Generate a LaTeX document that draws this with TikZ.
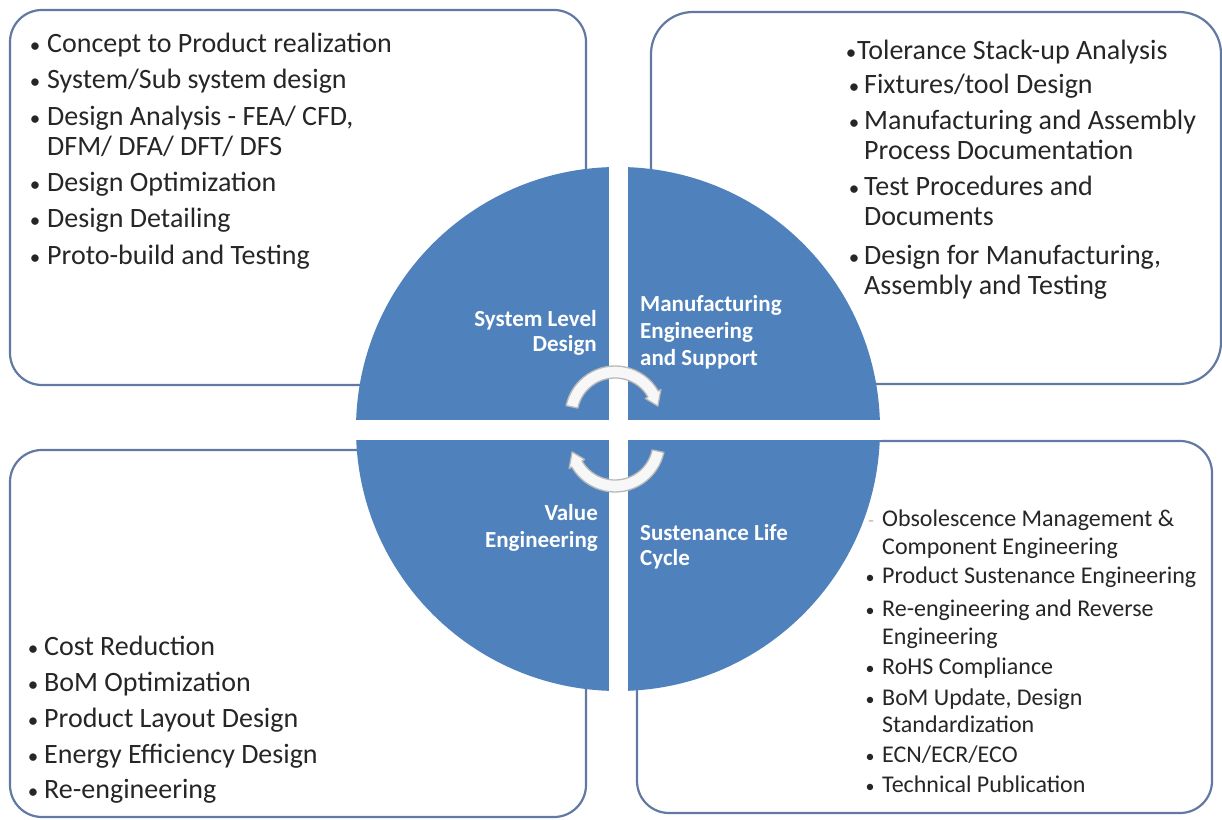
\documentclass[tikz,border=0pt]{standalone}
\usepackage{fontspec}
\setmainfont{Carlito}
\usetikzlibrary{calc}
\definecolor{circblue}{RGB}{79,129,189}
\definecolor{boxline}{RGB}{98,121,163}
\definecolor{txtgray}{RGB}{38,38,38}
\tikzset{
  box/.style={draw=boxline, line width=2.2pt, rounded corners=32pt},
  bigtxt/.style={anchor=base west, inner sep=0pt, text=txtgray, font=\fontsize{28}{30}\selectfont},
  bigbul/.style={anchor=base, inner sep=0pt, text=txtgray, font=\fontsize{21}{30}\selectfont},
  smtxt/.style={anchor=base west, inner sep=0pt, text=txtgray, font=\fontsize{24}{28}\selectfont},
  smbul/.style={anchor=base, inner sep=0pt, text=txtgray, font=\fontsize{18}{28}\selectfont},
  ctxtL/.style={anchor=base east, inner sep=0pt, text=white, font=\fontsize{23}{26}\bfseries\selectfont},
  ctxtR/.style={anchor=base west, inner sep=0pt, text=white, font=\fontsize{23}{26}\bfseries\selectfont},
  cyc/.style={fill=gray!6, draw=gray!55, line width=1.3pt, line join=round}
}
\begin{document}
\begin{tikzpicture}[x=1pt,y=1pt]
\useasboundingbox (0,0) rectangle (1222,819);
\fill[white] (0,0) rectangle (1222,819);

% boxes
\draw[box] (10,434) rectangle (586,809);
\draw[box, rounded corners=42pt] (651,435) rectangle (1221,807);
\draw[box] (10,2) rectangle (586,369);
\draw[box] (637,6) rectangle (1212,378);

% circle
\coordinate (cc) at (618,390);
\fill[circblue] (cc) circle (262);
\begin{scope}
  \clip (cc) circle (264);
  \fill[white] (608.5,100) rectangle (627.5,680);
  \fill[white] (340,379) rectangle (900,399);
\end{scope}

% cycle arrows
\coordinate (uc) at (615,403);
\coordinate (lc) at (615,377);
\filldraw[cyc] ($(uc)+(168:50)$) arc[start angle=168, end angle=30, radius=50]
  -- ($(uc)+(30:53)$) -- ($(uc)+(13:44)$) -- ($(uc)+(30:35)$) -- ($(uc)+(30:38)$)
  arc[start angle=30, end angle=168, radius=38] -- cycle;
\filldraw[cyc] ($(lc)+(-12:50)$) arc[start angle=-12, end angle=-150, radius=50]
  -- ($(lc)+(-150:53)$) -- ($(lc)+(-167:44)$) -- ($(lc)+(-150:35)$) -- ($(lc)+(-150:38)$)
  arc[start angle=-150, end angle=-12, radius=38] -- cycle;

% circle labels
\node[ctxtL] (sl1) at (597,492) {System Level};
\node[ctxtL] (sl2) at (597,467) {Design};
\node[ctxtR] (me1) at (640,507) {Manufacturing};
\node[ctxtR] (me2) at (640,480) {Engineering};
\node[ctxtR] (me3) at (640,453) {and Support};
\node[ctxtL] (ve1) at (598,298) {Value};
\node[ctxtL] (ve2) at (598,271) {Engineering};
\node[ctxtR] (sc1) at (640,278) {Sustenance Life};
\node[ctxtR] (sc2) at (640,253) {Cycle};

% top-left box
\node[bigbul] (a1b) at (35,766) {•};
\node[bigtxt] (a1) at (47,766) {Concept to Product realization};
\node[bigbul] (a2b) at (35,730) {•};
\node[bigtxt] (a2) at (47,730) {System/Sub system design};
\node[bigbul] (a3b) at (35,693) {•};
\node[bigtxt] (a3) at (47,693) {Design Analysis - FEA/ CFD,};
\node[bigtxt] (a3c) at (47,663) {DFM/ DFA/ DFT/ DFS};
\node[bigbul] (a4b) at (35,627) {•};
\node[bigtxt] (a4) at (47,627) {Design Optimization};
\node[bigbul] (a5b) at (35,591) {•};
\node[bigtxt] (a5) at (47,591) {Design Detailing};
\node[bigbul] (a6b) at (35,554) {•};
\node[bigtxt] (a6) at (47,554) {Proto-build and Testing};

% top-right box
\node[bigbul] (b1b) at (851,759) {•};
\node[bigtxt] (b1) at (857,759) {Tolerance Stack-up Analysis};
\node[bigbul] (b2b) at (854,725) {•};
\node[bigtxt] (b2) at (864,725) {Fixtures/tool Design};
\node[bigbul] (b3b) at (854,689) {•};
\node[bigtxt] (b3) at (864,689) {Manufacturing and Assembly};
\node[bigtxt] (b3c) at (864,659) {Process Documentation};
\node[bigbul] (b4b) at (854,623) {•};
\node[bigtxt] (b4) at (864,623) {Test Procedures and};
\node[bigtxt] (b4c) at (864,593) {Documents};
\node[bigbul] (b5b) at (854,554) {•};
\node[bigtxt] (b5) at (864,554) {Design for Manufacturing,};
\node[bigtxt] (b5c) at (864,524) {Assembly and Testing};

% bottom-left box
\node[bigbul] (c1b) at (33,164) {•};
\node[bigtxt] (c1) at (44,164) {Cost Reduction};
\node[bigbul] (c2b) at (33,128) {•};
\node[bigtxt] (c2) at (44,128) {BoM Optimization};
\node[bigbul] (c3b) at (33,92) {•};
\node[bigtxt] (c3) at (44,92) {Product Layout Design};
\node[bigbul] (c4b) at (33,56) {•};
\node[bigtxt] (c4) at (44,56) {Energy Efficiency Design};
\node[bigbul] (c5b) at (33,21) {•};
\node[bigtxt] (c5) at (44,21) {Re-engineering};

% bottom-right box
\node[smbul, text=gray!60] (d1b) at (871,292) {-};
\node[smtxt] (d1) at (882,292) {Obsolescence Management \&};
\node[smtxt] (d1c) at (882,264) {Component Engineering};
\node[smbul] (d2b) at (870,235) {•};
\node[smtxt] (d2) at (882,235) {Product Sustenance Engineering};
\node[smbul] (d3b) at (870,202) {•};
\node[smtxt] (d3) at (882,202) {Re-engineering and Reverse};
\node[smtxt] (d3c) at (882,175) {Engineering};
\node[smbul] (d4b) at (870,145) {•};
\node[smtxt] (d4) at (882,145) {RoHS Compliance};
\node[smbul] (d5b) at (870,114) {•};
\node[smtxt] (d5) at (882,114) {BoM Update, Design};
\node[smtxt] (d5c) at (882,87) {Standardization};
\node[smbul] (d6b) at (870,57) {•};
\node[smtxt] (d6) at (882,57) {ECN/ECR/ECO};
\node[smbul] (d7b) at (870,27) {•};
\node[smtxt] (d7) at (882,27) {Technical Publication};
\end{tikzpicture}
\end{document}
